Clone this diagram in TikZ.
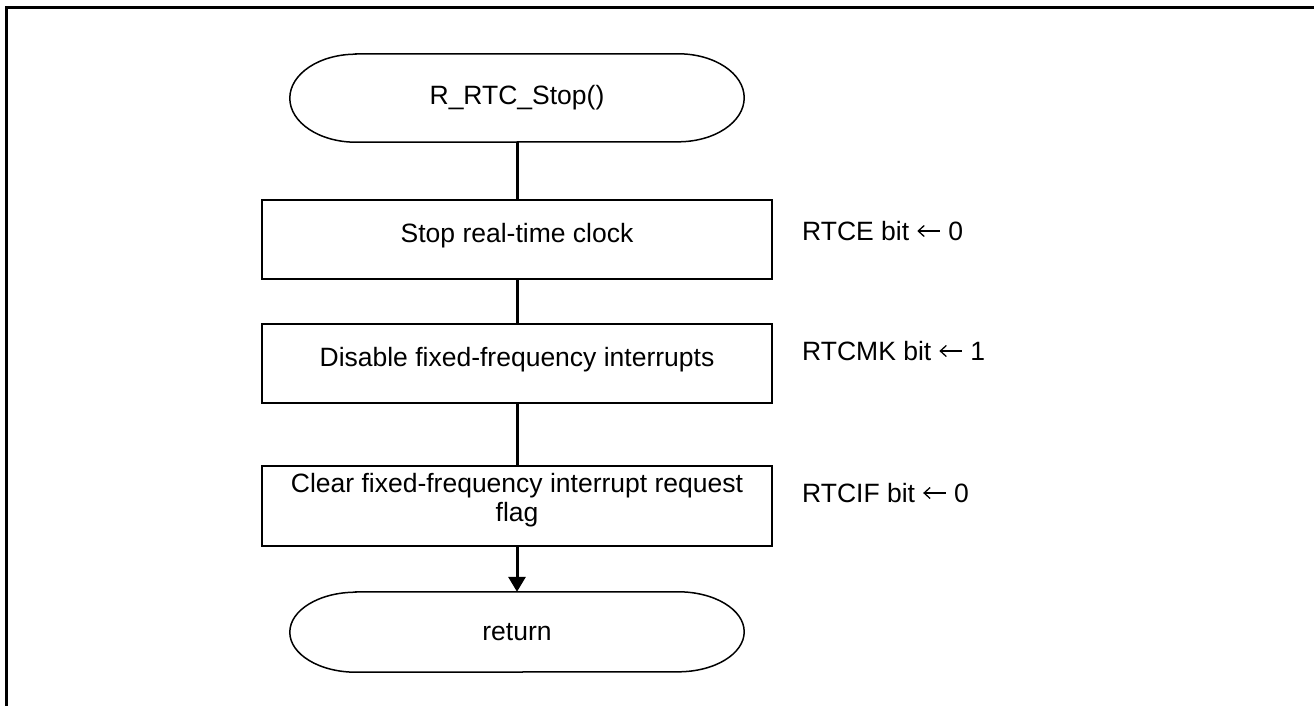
\documentclass[tikz,border=0pt]{standalone}
\usepackage{fontspec}
\setmainfont{Liberation Sans}
\usetikzlibrary{arrows.meta}

% terminal (start/end) outline with flattened elliptic ends
\newlength\termh
\newcommand\termoutline[1]{%
  \draw[termline] ([xshift=66pt]#1.north west) -- ([xshift=-66pt]#1.north east)
    arc[start angle=90,end angle=-90,x radius=66pt,y radius=0.5*\termh]
    -- ([xshift=66pt]#1.south west)
    arc[start angle=270,end angle=90,x radius=66pt,y radius=0.5*\termh] -- cycle;}
% assignment arrow set inline with the register notes
\newcommand\getsarrow{\tikz[baseline=-9pt]\draw[line width=1.3pt,
    {Straight Barb[length=6pt,width=11pt,line width=1.3pt]}-] (0pt,0pt) -- (23pt,0pt);}

\begin{document}
\begin{tikzpicture}[x=1pt,y=1pt,
  every node/.style={font=\fontsize{26.5}{28.5}\selectfont, inner sep=0pt},
  term/.style={minimum width=454pt, minimum height=88pt},
  termline/.style={line width=1.5pt},
  procbox/.style={draw, line width=1.5pt, minimum width=510pt, minimum height=79pt,
    align=center, text height=20pt, text depth=15pt},
  flow/.style={line width=3pt},
  flowarrow/.style={line width=3pt, -{Triangle[length=15pt,width=17pt]}},
  note/.style={anchor=base west}]
  \useasboundingbox (0,0) rectangle (1314,-706);

  % outer frame (top and left edges)
  \draw[line width=3pt, line join=miter] (6.5,-706) -- (6.5,-7.5) -- (1314,-7.5);

  % flowchart nodes
  \node[term] (start) at (517,-98) {R\_RTC\_Stop()};
  \setlength\termh{88pt}\termoutline{start}

  \node[procbox] (stop) at (517,-239.5) {Stop real-time clock};
  \node[procbox] (dis) at (517,-363.5) {Disable fixed-frequency interrupts};
  \node[procbox, minimum height=80pt, text height=47pt, text depth=17pt] (clr) at (517,-506)
    {Clear fixed-frequency interrupt request\\flag};

  \node[term, minimum height=80pt] (ret) at (517,-632) {return};
  \setlength\termh{80pt}\termoutline{ret}

  % register notes
  \node[note] (n1) at (802,-240) {RTCE bit \getsarrow{} 0};
  \node[note] (n2) at (802,-360) {RTCMK bit \getsarrow{} 1};
  \node[note] (n3) at (802,-502) {RTCIF bit \getsarrow{} 0};

  % connectors
  \draw[flow] (start.south) -- (stop.north);
  \draw[flow] (stop.south) -- (dis.north);
  \draw[flow] (dis.south) -- (clr.north);
  \draw[flowarrow] (clr.south) -- (ret.north);
\end{tikzpicture}
\end{document}
